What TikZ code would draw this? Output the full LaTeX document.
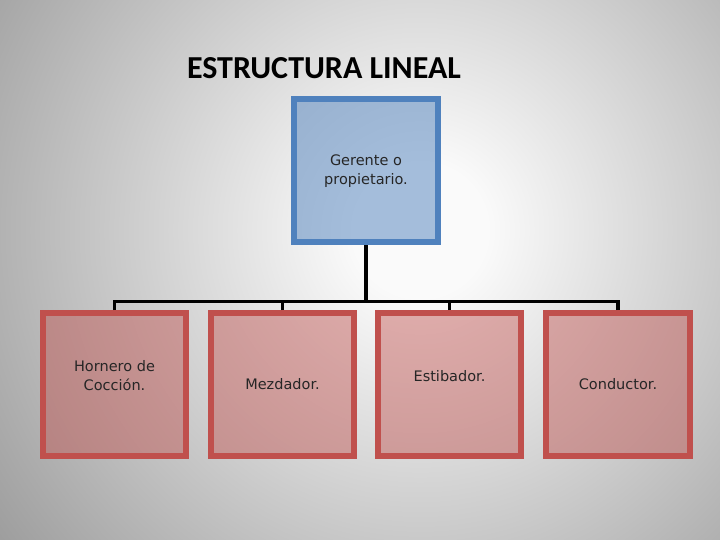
\documentclass[tikz,border=0pt]{standalone}
\usepackage{fontspec}
\setmainfont{DejaVu Sans}
\newfontfamily\titlefont{Carlito}
\definecolor{bluebd}{RGB}{79,129,189}
\definecolor{redbd}{RGB}{192,80,77}
\definecolor{bgin}{RGB}{250,250,250}
\definecolor{bgout}{RGB}{150,150,150}
\pgfdeclareradialshading{bgshade}{\pgfpoint{0bp}{0bp}}{color(0bp)=(bgin); color(3bp)=(bgin); color(25bp)=(bgout); color(50bp)=(bgout)}
\begin{document}
\begin{tikzpicture}[x=1pt,y=-1pt,
  topbox/.style={draw=bluebd, line width=6pt, fill=bluebd, fill opacity=0.5, text opacity=1},
  subbox/.style={draw=redbd, line width=6pt, fill=redbd, fill opacity=0.45, text opacity=1},
  lbl/.style={font=\fontsize{14.5}{19}\selectfont, align=center, text=black!85},
  conn/.style={line width=3.2pt, black}]
\useasboundingbox (0,0) rectangle (720,540);
\fill[bgout] (0,0) rectangle (720,540);
\begin{scope}
\clip (0,0) rectangle (720,540);
\shade[shading=bgshade] (420,230) circle (560);
\end{scope}
\node[font=\titlefont\bfseries\fontsize{32}{36}\selectfont] (title) at (324,68) {ESTRUCTURA LINEAL};
% top box
\draw[topbox] (294,99) rectangle (438,242);
\node[lbl] (top) at (366,171) {Gerente o\\propietario.};
\coordinate (topb) at (366,245);
% sub boxes
\draw[subbox] (43,313) rectangle (186,456);
\draw[subbox] (211,313) rectangle (354,456);
\draw[subbox] (378,313) rectangle (521,456);
\draw[subbox] (546,313) rectangle (690,456);
\coordinate (t1) at (114.5,310);
\coordinate (t2) at (282.5,310);
\coordinate (t3) at (449.5,310);
\coordinate (t4) at (618,310);
\node[lbl] (b1) at (114.5,376) {Hornero de\\Cocción.};
\node[lbl] (b2) at (282.5,384) {Mezdador.};
\node[lbl] (b3) at (449.5,376) {Estibador.};
\node[lbl] (b4) at (618,384) {Conductor.};
% connectors
\coordinate (bus) at (366,301.5);
\draw[conn] (topb) -- (bus);
\draw[conn] (t1) |- (bus);
\draw[conn] (t4) |- (bus);
\draw[conn] (t2) -- (t2 |- bus);
\draw[conn] (t3) -- (t3 |- bus);
\end{tikzpicture}
\end{document}
